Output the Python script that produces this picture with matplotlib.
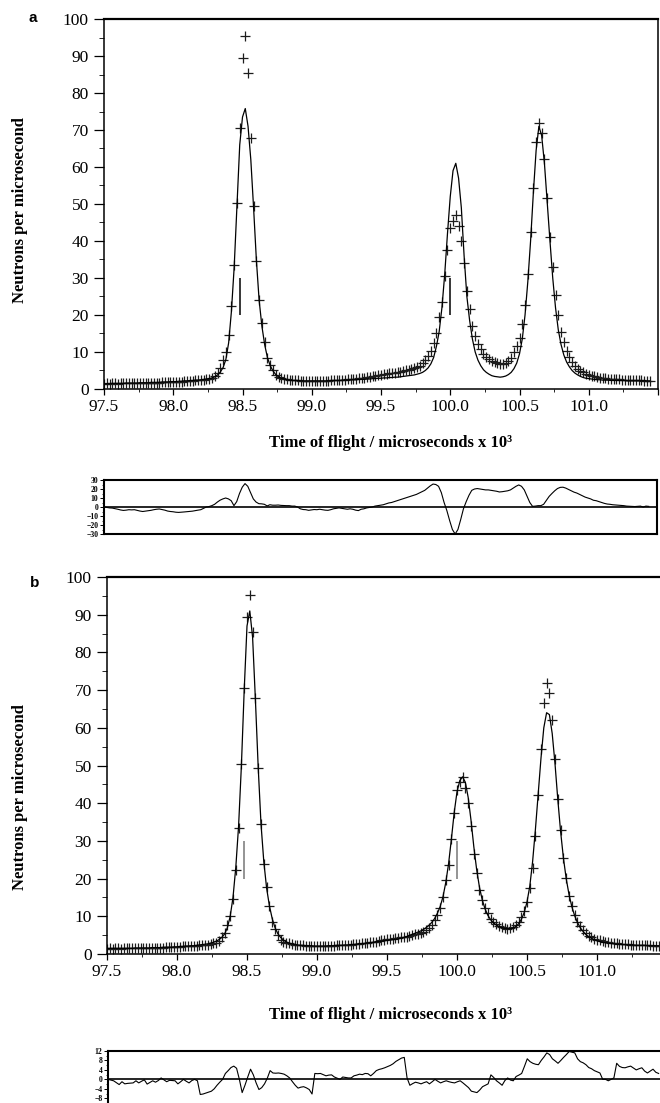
import numpy as np
import matplotlib
matplotlib.use("Agg")
import matplotlib.pyplot as plt
from matplotlib.ticker import MultipleLocator

plt.rcParams['font.family'] = ['Liberation Serif', 'DejaVu Serif']

# time-of-flight bins (x 10^3 microseconds), uniform bin width
tof_start = 97.5
tof_step = 0.02
n_bins = 198

# observed counts (same data in both panels)
obs = [
    1.4, 1.5, 1.4, 1.5, 1.5, 1.4, 1.5, 1.5, 1.6, 1.5,
    1.5, 1.6, 1.5, 1.6, 1.6, 1.6, 1.6, 1.7, 1.7, 1.7,
    1.7, 1.8, 1.8, 1.8, 1.9, 1.9, 1.9, 2.0, 2.0, 2.1,
    2.1, 2.2, 2.2, 2.3, 2.3, 2.4, 2.5, 2.6, 2.8, 3.0,
    3.4, 4.4, 5.6, 7.8, 10.1, 14.6, 22.3, 33.5, 50.3, 70.5,
    89.5, 95.3, 85.5, 67.8, 49.4, 34.5, 24.0, 17.8, 12.8, 8.4,
    6.5, 5.1, 3.8, 3.3, 3.0, 2.8, 2.6, 2.5, 2.4, 2.3,
    2.3, 2.2, 2.2, 2.1, 2.1, 2.1, 2.1, 2.1, 2.2, 2.1,
    2.2, 2.2, 2.3, 2.3, 2.4, 2.4, 2.5, 2.5, 2.6, 2.7,
    2.7, 2.8, 2.9, 3.0, 3.1, 3.2, 3.3, 3.5, 3.6, 3.8,
    3.9, 4.0, 4.1, 4.2, 4.3, 4.4, 4.5, 4.6, 4.8, 5.0,
    5.2, 5.4, 5.6, 5.9, 6.3, 6.9, 7.8, 9.0, 10.3, 12.3,
    15.0, 19.5, 23.5, 30.5, 37.5, 43.5, 45.5, 47.0, 44.0, 40.0,
    34.0, 26.5, 21.5, 17.0, 14.4, 12.2, 10.8, 9.4, 8.6, 8.0,
    7.5, 7.2, 7.0, 6.7, 6.8, 7.1, 7.6, 8.5, 9.9, 11.5,
    13.9, 17.5, 22.8, 31.2, 42.3, 54.3, 66.7, 72.0, 69.1, 62.2,
    51.6, 41.0, 33.0, 25.5, 20.1, 15.4, 12.6, 10.4, 8.6, 7.3,
    6.3, 5.5, 4.9, 4.5, 4.1, 3.8, 3.6, 3.4, 3.2, 3.1,
    3.0, 2.9, 2.8, 2.7, 2.7, 2.6, 2.6, 2.5, 2.5, 2.4,
    2.4, 2.4, 2.3, 2.3, 2.3, 2.2, 2.2, 2.2,
]

# calculated profile, fit a
calc_a = [
    1.4, 1.4, 1.4, 1.5, 1.5, 1.5, 1.5, 1.5, 1.6, 1.6,
    1.6, 1.6, 1.6, 1.7, 1.7, 1.7, 1.7, 1.8, 1.8, 1.8,
    1.8, 1.9, 1.9, 1.9, 2.0, 2.0, 2.0, 2.1, 2.1, 2.2,
    2.2, 2.3, 2.3, 2.4, 2.4, 2.5, 2.6, 2.7, 2.8, 3.0,
    3.3, 3.8, 4.6, 5.8, 8.0, 12.5, 21.0, 33.0, 49.5, 66.0,
    73.5, 75.8, 71.0, 62.0, 49.0, 35.0, 24.0, 17.0, 12.0, 8.5,
    6.3, 4.9, 3.9, 3.3, 2.9, 2.7, 2.5, 2.4, 2.3, 2.3,
    2.3, 2.2, 2.2, 2.2, 2.2, 2.2, 2.2, 2.2, 2.2, 2.2,
    2.2, 2.2, 2.3, 2.3, 2.3, 2.3, 2.4, 2.4, 2.4, 2.5,
    2.5, 2.5, 2.6, 2.6, 2.6, 2.7, 2.7, 2.8, 2.8, 2.9,
    2.9, 3.0, 3.0, 3.1, 3.1, 3.2, 3.2, 3.3, 3.4, 3.5,
    3.6, 3.7, 3.8, 4.0, 4.2, 4.5, 5.0, 5.7, 6.8, 8.5,
    11.5, 15.5, 22.0, 31.0, 42.0, 52.0, 59.0, 61.0, 57.0, 49.0,
    36.0, 25.0, 18.5, 13.5, 10.0, 7.8, 6.3, 5.2, 4.5, 4.0,
    3.6, 3.4, 3.3, 3.2, 3.3, 3.5, 3.9, 4.5, 5.5, 7.0,
    9.5, 13.5, 20.0, 29.0, 40.0, 53.0, 64.5, 71.0, 68.5, 61.0,
    50.5, 40.0, 30.0, 22.0, 16.0, 12.0, 9.2, 7.3, 6.0, 5.0,
    4.3, 3.8, 3.4, 3.1, 2.9, 2.8, 2.7, 2.6, 2.5, 2.5,
    2.4, 2.4, 2.4, 2.3, 2.3, 2.3, 2.3, 2.3, 2.3, 2.2,
    2.2, 2.2, 2.2, 2.2, 2.2, 2.2, 2.2, 2.2,
]

# calculated profile, fit b
calc_b = [
    1.5, 1.5, 1.5, 1.5, 1.5, 1.5, 1.5, 1.5, 1.5, 1.5,
    1.6, 1.6, 1.6, 1.6, 1.6, 1.6, 1.7, 1.7, 1.7, 1.7,
    1.8, 1.8, 1.8, 1.8, 1.9, 1.9, 2.0, 2.0, 2.1, 2.1,
    2.2, 2.2, 2.3, 2.4, 2.5, 2.6, 2.7, 2.9, 3.1, 3.4,
    3.8, 4.4, 5.3, 7.0, 10.0, 15.0, 23.0, 34.0, 50.0, 70.0,
    87.0, 91.0, 84.0, 67.5, 49.5, 34.5, 24.5, 17.5, 12.8, 9.4,
    7.0, 5.4, 4.4, 3.7, 3.2, 2.9, 2.7, 2.5, 2.4, 2.3,
    2.3, 2.2, 2.2, 2.2, 2.1, 2.1, 2.1, 2.1, 2.1, 2.2,
    2.2, 2.2, 2.3, 2.3, 2.3, 2.4, 2.4, 2.5, 2.5, 2.6,
    2.7, 2.7, 2.8, 2.9, 3.0, 3.1, 3.2, 3.3, 3.4, 3.5,
    3.6, 3.7, 3.8, 3.9, 4.0, 4.2, 4.4, 4.6, 4.9, 5.2,
    5.5, 5.8, 6.1, 6.5, 7.0, 7.6, 8.4, 9.4, 10.8, 12.6,
    15.2, 19.0, 24.0, 30.5, 37.5, 43.0, 46.0, 47.0, 45.5, 41.5,
    35.5, 28.5, 22.5, 17.8, 14.4, 12.0, 10.3, 9.1, 8.3, 7.7,
    7.3, 7.0, 6.8, 6.7, 6.7, 6.9, 7.3, 8.0, 9.2, 11.0,
    13.8, 18.0, 24.5, 33.0, 42.5, 52.0, 60.0, 64.0, 63.5, 58.5,
    50.5, 41.0, 32.5, 25.5, 20.0, 15.8, 12.6, 10.2, 8.4, 7.0,
    6.0, 5.2, 4.6, 4.2, 3.8, 3.5, 3.3, 3.1, 3.0, 2.9,
    2.8, 2.7, 2.6, 2.6, 2.5, 2.5, 2.4, 2.4, 2.4, 2.3,
    2.3, 2.3, 2.3, 2.2, 2.2, 2.2, 2.2, 2.2,
]

# difference curves below each panel
resid_a = [
    0.0, -0.5, -1.0, -1.2, -1.8, -2.5, -3.3, -3.8, -3.5, -3.0,
    -3.2, -3.0, -3.8, -4.5, -5.0, -4.6, -4.2, -3.7, -3.0, -2.5,
    -2.2, -2.8, -3.5, -4.5, -5.0, -5.3, -5.8, -6.0, -5.8, -5.5,
    -5.2, -5.0, -4.6, -4.0, -3.5, -3.0, -1.5, 0.0, 0.5, 1.5,
    3.0, 5.5, 7.6, 9.0, 10.0, 9.0, 7.0, 1.5, 6.0, 15.0,
    22.0, 26.0, 23.0, 16.0, 9.0, 5.5, 3.7, 3.5, 3.0, 1.2,
    2.5, 2.0, 2.0, 2.2, 1.8, 1.6, 1.5, 1.5, 1.0, 1.0,
    0.0, -2.0, -2.8, -3.0, -3.7, -3.2, -2.8, -3.0, -2.5, -3.0,
    -3.5, -3.7, -3.0, -2.0, -1.5, -1.0, -1.5, -2.0, -2.5, -2.0,
    -2.5, -3.5, -4.0, -2.5, -2.0, -1.0, -0.5, 0.0, 1.0, 1.5,
    2.0, 2.5, 3.5, 4.5, 5.0, 6.0, 7.0, 8.0, 9.0, 10.0,
    11.0, 12.0, 13.0, 14.0, 15.5, 17.0, 18.5, 21.0, 23.5, 25.5,
    25.0, 23.0, 16.0, 5.0, -4.0, -15.0, -25.0, -30.0, -25.0, -14.0,
    -2.0, 6.0, 13.0, 18.5, 20.0, 20.5, 20.0, 19.5, 19.0, 19.0,
    18.5, 18.0, 17.5, 16.7, 17.0, 17.5, 18.0, 19.0, 21.0, 23.0,
    24.5, 23.0, 19.0, 12.0, 5.0, 0.7, 1.0, 1.5, 1.5, 3.0,
    7.5, 11.8, 15.0, 18.0, 20.5, 21.8, 22.0, 21.0, 19.5, 18.0,
    16.5, 15.5, 14.0, 12.5, 11.0, 10.0, 9.0, 7.5, 7.0, 6.0,
    5.0, 4.0, 3.3, 3.0, 2.5, 2.2, 2.0, 1.8, 1.5, 1.0,
    0.8, 0.7, 0.5, 0.7, 1.0, 0.0, 1.0, 0.7,
]

resid_b = [
    0.0, -0.3, -0.6, -1.4, -2.2, -1.0, -1.9, -1.7, -1.6, -1.5,
    -0.6, -1.5, -0.8, -0.2, -2.0, -1.3, -0.6, -1.2, -0.5, 0.6,
    -0.2, -1.0, -0.4, -0.5, -0.6, -1.9, -1.0, 0.0, -0.8, -1.5,
    -0.5, 0.0, -0.6, -6.4, -6.2, -5.8, -5.4, -5.0, -4.0, -2.5,
    -1.2, 0.0, 2.5, 3.7, 5.0, 5.6, 4.7, 0.0, -5.6, -2.5,
    1.0, 4.3, 1.9, -1.5, -4.3, -3.5, -1.9, 0.5, 3.7, 2.7,
    2.6, 2.7, 2.5, 2.2, 1.5, 0.6, -1.0, -2.5, -3.7, -3.3,
    -3.1, -3.6, -4.3, -6.2, 2.5, 2.4, 2.5, 2.0, 1.5, 1.8,
    1.9, 1.0, 0.5, 0.0, 1.0, 0.8, 0.6, 0.6, 1.5, 1.8,
    2.2, 2.0, 2.5, 2.4, 1.5, 2.5, 3.7, 4.2, 4.5, 4.9,
    5.4, 5.9, 6.6, 7.6, 8.3, 9.0, 9.3, 0.6, -2.5, -1.8,
    -1.2, -1.5, -1.9, -1.4, -1.0, -1.9, -1.0, 0.0, -0.8, -1.5,
    -1.0, -0.6, -1.0, -1.3, -1.5, -1.0, -0.6, -1.5, -2.5, -3.5,
    -5.0, -5.3, -5.6, -4.5, -3.1, -2.5, -1.9, 1.9, 0.8, -0.6,
    -1.5, -2.5, -0.5, 0.6, -0.3, -0.6, 1.2, 1.8, 2.5, 5.5,
    8.7, 7.5, 6.8, 6.4, 6.2, 8.0, 9.5, 11.2, 10.5, 8.7,
    7.8, 6.8, 8.0, 9.3, 10.5, 11.8, 11.5, 11.2, 8.7, 7.5,
    7.0, 6.2, 5.0, 4.5, 3.7, 3.2, 2.7, 0.0, 0.0, -0.6,
    0.0, 0.6, 6.8, 5.5, 5.0, 4.9, 5.3, 5.6, 4.8, 4.0,
    4.5, 4.9, 3.5, 2.7, 3.5, 4.3, 3.0, 2.5,
]

# reflection markers (position, bottom, top)
reflections = [98.48, 100.0]
marker_span = (20, 30)

xtick_vals = [97.5, 98.0, 98.5, 99.0, 99.5, 100.0, 100.5, 101.0, 101.5]
xtick_labels = ['97.5', '98.0', '98.5', '99.0', '99.5', '100.0', '100.5', '101.0', '']

resid_a_ticks = [30, 20, 10, 0, -10, -20, -30]
resid_b_ticks = [12, 8, 4, 0, -4, -8]

tof = tof_start + tof_step * np.arange(n_bins)

W, H = 660, 1103
fig = plt.figure(figsize=(W / 100, H / 100), dpi=100)


def add_px_axes(left, top, right, bottom):
    return fig.add_axes([left / W, 1 - bottom / H, (right - left) / W, (bottom - top) / H])


def draw_main(ax, calc, marker_color):
    ax.plot(tof, obs, ls='none', marker='+', ms=7.5, mew=0.9, color='#1c1c1c')
    ax.plot(tof, calc, color='black', lw=0.9)
    ax.vlines(reflections, marker_span[0], marker_span[1], color=marker_color, lw=1.1)
    ax.set_xlim(97.5, 101.5)
    ax.set_ylim(0, 100)
    ax.set_yticks(range(0, 101, 10))
    ax.yaxis.set_minor_locator(MultipleLocator(5))
    ax.set_xticks(xtick_vals)
    ax.set_xticklabels(xtick_labels)
    ax.xaxis.set_minor_locator(MultipleLocator(0.25))
    ax.tick_params(axis='y', which='major', direction='out', length=7, width=0.9,
                   labelsize=12.5, pad=4)
    ax.tick_params(axis='y', which='minor', direction='out', length=3.5, width=0.6)
    ax.tick_params(axis='x', which='major', direction='out', length=4, width=0.9,
                   labelsize=12.5, pad=3)
    ax.tick_params(axis='x', which='minor', direction='out', length=2.5, width=0.6)
    for s in ax.spines.values():
        s.set_linewidth(1.1)
    ax.spines['top'].set_linewidth(1.6)


def draw_resid(ax, resid, lo, hi, ticks, minor):
    ax.plot(tof, resid, color='black', lw=0.8)
    ax.axhline(0, color='black', lw=1.2)
    ax.set_xlim(97.5, 101.5)
    ax.set_ylim(lo, hi)
    ax.set_xticks([])
    ax.set_yticks(ticks)
    ax.yaxis.set_minor_locator(MultipleLocator(minor))
    ax.tick_params(axis='y', which='major', direction='out', length=3, width=0.7,
                   labelsize=5.5, pad=1)
    ax.tick_params(axis='y', which='minor', direction='out', length=1.8, width=0.5)
    for lab in ax.get_yticklabels():
        lab.set_fontweight('bold')
    for s in ax.spines.values():
        s.set_linewidth(1.5)


# panel a
ax_a = add_px_axes(104, 19, 658, 389)
draw_main(ax_a, calc_a, 'black')
ax_ra = add_px_axes(104, 480, 657, 534)
draw_resid(ax_ra, resid_a, -30, 30, resid_a_ticks, 5)

# panel b (right edge and bottom run off the page)
ax_b = add_px_axes(107, 577, 667, 954)
draw_main(ax_b, calc_b, '#777777')
ax_rb = add_px_axes(108, 1051, 667, 1103)
draw_resid(ax_rb, resid_b, -10, 12, resid_b_ticks, 2)
ax_rb.spines['bottom'].set_visible(False)

ylab = 'Neutrons per microsecond'
xlab = 'Time of flight / microseconds x 10³'
fig.text(20 / W, 1 - 210 / H, ylab, rotation=90, ha='center', va='center',
         fontsize=12, fontweight='bold')
fig.text(20 / W, 1 - 797 / H, ylab, rotation=90, ha='center', va='center',
         fontsize=12, fontweight='bold')
fig.text(391 / W, 1 - 443 / H, xlab, ha='center', va='center', fontsize=12, fontweight='bold')
fig.text(391 / W, 1 - 1015 / H, xlab, ha='center', va='center', fontsize=12, fontweight='bold')

fig.text(33 / W, 1 - 18 / H, 'a', ha='center', va='center', fontsize=11,
         fontweight='bold', family=['Liberation Sans', 'DejaVu Sans'])
fig.text(35 / W, 1 - 583 / H, 'b', ha='center', va='center', fontsize=11,
         fontweight='bold', family=['Liberation Sans', 'DejaVu Sans'])

fig.savefig('out.png', dpi=100)
